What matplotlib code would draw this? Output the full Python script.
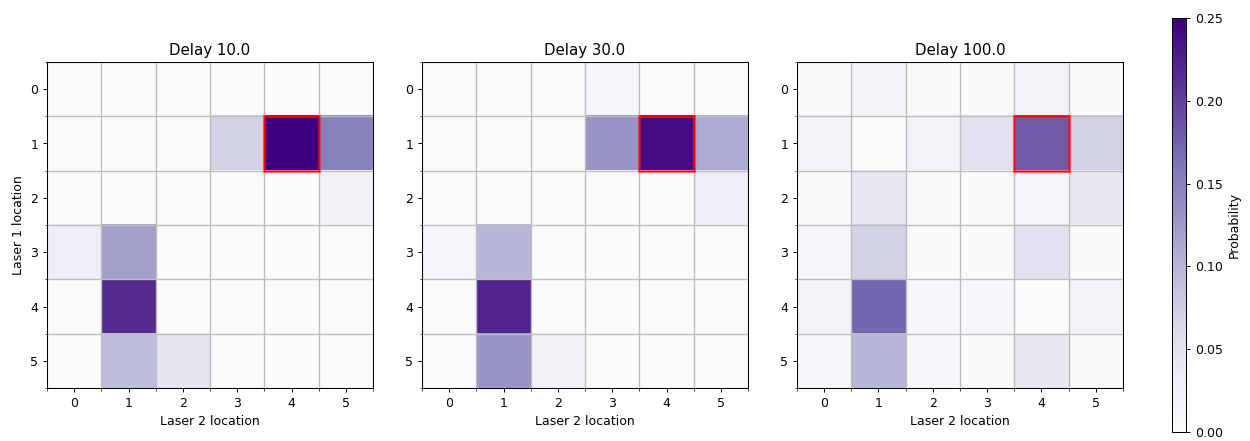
import numpy as np
import matplotlib
matplotlib.use("Agg")
import matplotlib.pyplot as plt
from matplotlib.patches import Rectangle

delays = [10.0, 30.0, 100.0]
locations = [0, 1, 2, 3, 4, 5]
target = (1, 4)  # (laser 1 row, laser 2 col)

# probability grids, rows = laser 1 location, cols = laser 2 location
prob_10 = [
    [0.002, 0.001, 0.002, 0.002, 0.002, 0.002],
    [0.002, 0.001, 0.001, 0.070, 0.255, 0.150],
    [0.002, 0.001, 0.002, 0.002, 0.002, 0.022],
    [0.030, 0.120, 0.002, 0.002, 0.002, 0.002],
    [0.002, 0.215, 0.002, 0.002, 0.002, 0.002],
    [0.002, 0.092, 0.043, 0.002, 0.002, 0.002],
]
prob_30 = [
    [0.002, 0.002, 0.002, 0.012, 0.002, 0.002],
    [0.002, 0.001, 0.001, 0.130, 0.240, 0.110],
    [0.002, 0.002, 0.002, 0.002, 0.002, 0.030],
    [0.012, 0.100, 0.002, 0.002, 0.002, 0.002],
    [0.002, 0.220, 0.002, 0.002, 0.002, 0.002],
    [0.002, 0.130, 0.022, 0.002, 0.002, 0.002],
]
prob_100 = [
    [0.003, 0.020, 0.003, 0.003, 0.020, 0.003],
    [0.020, 0.000, 0.020, 0.050, 0.180, 0.070],
    [0.003, 0.040, 0.003, 0.003, 0.012, 0.040],
    [0.010, 0.070, 0.003, 0.003, 0.050, 0.003],
    [0.020, 0.172, 0.010, 0.010, 0.000, 0.020],
    [0.010, 0.100, 0.010, 0.003, 0.040, 0.003],
]
grids = [prob_10, prob_30, prob_100]

dpi = 90
fig = plt.figure(figsize=(1250 / dpi, 441 / dpi), dpi=dpi)
lefts = [47 / 1250, 422 / 1250, 797 / 1250]
axes = [fig.add_axes([l, 53 / 441, 326 / 1250, 326 / 441]) for l in lefts]

for ax, d, g in zip(axes, delays, grids):
    im = ax.imshow(np.array(g), cmap="Purples", vmin=0, vmax=0.25, aspect="auto")
    ax.set_xticks(locations)
    ax.set_yticks(locations)
    ax.set_xticks(np.arange(-0.5, 6, 1), minor=True)
    ax.set_yticks(np.arange(-0.5, 6, 1), minor=True)
    ax.grid(which="minor", color="#bdbdbd", linewidth=1.1)
    ax.set_xlim(-0.5, 5.5)
    ax.set_ylim(5.5, -0.5)
    r, c = target
    ax.add_patch(Rectangle((c - 0.5, r - 0.5), 1, 1, fill=False,
                           edgecolor="red", linewidth=2.5, alpha=0.55, zorder=3))
    ax.add_patch(Rectangle((c - 0.5, r - 0.5), 1, 1, fill=False,
                           edgecolor="red", linewidth=0.8, zorder=4))
    ax.set_title(f"Delay {d}")
    ax.set_xlabel("Laser 2 location")
axes[0].set_ylabel("Laser 1 location")

cax = fig.add_axes([1172 / 1250, 9 / 441, 14 / 1250, 414 / 441])
cb = fig.colorbar(im, cax=cax)
cb.set_label("Probability")
cb.set_ticks([0, 0.05, 0.10, 0.15, 0.20, 0.25])

fig.savefig("out.png", dpi=dpi)
